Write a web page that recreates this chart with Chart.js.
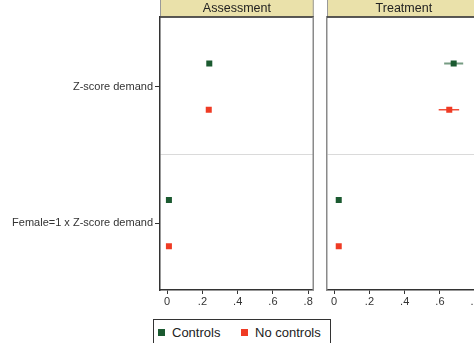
<!DOCTYPE html>
<html lang="en">
<head>
  <meta charset="UTF-8">
  <title>Z-score demand by stage</title>
  <style>
    html, body {
      margin: 0;
      padding: 0;
      width: 474px;
      height: 343px;
      overflow: hidden;
      background: #fff;
      font-family: "Liberation Sans", Arial, sans-serif;
    }
    canvas { position: absolute; top: 0; }
    #left { left: 0; }
    #right { left: 319px; }
    .legend {
      position: absolute;
      left: 153px;
      top: 319px;
      width: 176px;
      height: 30px;
      border: 1px solid #333;
      font-size: 13px;
      color: #222;
    }
    .legend span.item { position: absolute; top: 5px; }
    .legend i {
      display: inline-block;
      width: 7px;
      height: 7px;
      margin-right: 7px;
      vertical-align: 1px;
    }
  </style>
  <script src="https://cdn.jsdelivr.net/npm/chart.js"></script>
</head>
<body>
  <canvas id="left" width="318" height="312"></canvas>
  <canvas id="right" width="166" height="312"></canvas>
  <div class="legend">
    <span class="item" style="left:4px"><i style="background:#1b5a30"></i>Controls</span>
    <span class="item" style="left:87px"><i style="background:#ef3b24"></i>No controls</span>
  </div>

  <script>
    // rows of the plot (top to bottom)
    const groups = ['Z-score demand', 'Female=1 x Z-score demand'];
    const panels = ['Assessment', 'Treatment'];
    const xTicks = [0, 0.2, 0.4, 0.6, 0.8];
    const xTickLabels = ['0', '.2', '.4', '.6', '.8'];

    // Assessment panel
    const assessControls = [0.239, 0.010];
    const assessControlsLo = [0.229, 0.002];
    const assessControlsHi = [0.249, 0.018];
    const assessNoControls = [0.236, 0.010];
    const assessNoControlsLo = [0.226, 0.002];
    const assessNoControlsHi = [0.246, 0.018];

    // Treatment panel
    const treatControls = [0.678, 0.026];
    const treatControlsLo = [0.624, 0.018];
    const treatControlsHi = [0.732, 0.034];
    const treatNoControls = [0.653, 0.026];
    const treatNoControlsLo = [0.593, 0.018];
    const treatNoControlsHi = [0.709, 0.034];

    const green = '#1b5a30';
    const red = '#ef3b24';
    const font = { family: '"Liberation Sans", Arial, sans-serif', size: 11 };

    // vertical slot of each group, series shifted up / down inside it
    const rowY = (i, shift) => i * 2 + 1 + shift;

    function markers(values, shift, color, label) {
      return {
        label: label,
        data: values.map((v, i) => ({ x: v, y: rowY(i, shift) })),
        pointStyle: 'rect',
        pointRadius: 4.25,
        pointHoverRadius: 4.25,
        pointBorderWidth: 0,
        backgroundColor: color,
        borderColor: color,
        showLine: false
      };
    }

    function ciLines(lo, hi, shift, color, width) {
      return lo.map((l, i) => ({
        data: [{ x: l, y: rowY(i, shift) }, { x: hi[i], y: rowY(i, shift) }],
        showLine: true,
        borderColor: color,
        borderWidth: width,
        pointRadius: 0
      }));
    }

    function buildDatasets(c, cLo, cHi, n, nLo, nHi) {
      return [
        markers(c, -0.34, green, 'Controls'),
        markers(n, 0.34, red, 'No controls'),
        ...ciLines(cLo, cHi, -0.34, 'rgba(27,90,48,0.6)', 2),
        ...ciLines(nLo, nHi, 0.34, 'rgba(239,59,36,0.9)', 1.5)
      ];
    }

    // beige strip with panel title + light outline
    const stripPlugin = {
      id: 'strip',
      afterDraw(chart, args, opts) {
        const { ctx, chartArea: a } = chart;
        ctx.save();
        ctx.fillStyle = '#eae1aa';
        ctx.fillRect(a.left, 0, a.right - a.left, a.top);
        ctx.strokeStyle = '#999';
        ctx.lineWidth = 1;
        ctx.strokeRect(a.left + 0.5, -1, a.right - a.left - 1, a.top + 1);
        ctx.strokeStyle = '#333';
        ctx.lineWidth = 1.5;
        ctx.beginPath();
        ctx.moveTo(a.left, a.top);
        ctx.lineTo(a.right, a.top);
        ctx.stroke();
        // gray right edge of the plot region
        ctx.strokeStyle = '#8a8a8a';
        ctx.lineWidth = 1.5;
        ctx.beginPath();
        ctx.moveTo(a.right - 0.5, a.top);
        ctx.lineTo(a.right - 0.5, a.bottom);
        ctx.stroke();
        ctx.fillStyle = '#222';
        ctx.font = '12.5px "Liberation Sans", Arial, sans-serif';
        ctx.textAlign = 'center';
        ctx.textBaseline = 'middle';
        ctx.fillText(opts.text, (a.left + a.right) / 2, a.top / 2 + 0.5);
        ctx.restore();
      }
    };

    function makeChart(id, title, datasets, showYLabels) {
      return new Chart(document.getElementById(id), {
        type: 'scatter',
        data: { datasets: datasets },
        plugins: [stripPlugin],
        options: {
          responsive: false,
          animation: false,
          layout: { padding: { top: 17, right: 1, left: 0, bottom: 0 } },
          plugins: {
            legend: { display: false },
            tooltip: { enabled: false },
            strip: { text: title }
          },
          scales: {
            x: {
              type: 'linear',
              min: -0.0406,
              max: 0.8316,
              afterBuildTicks: (axis) => { axis.ticks = xTicks.map(v => ({ value: v })); },
              afterFit: (axis) => { axis.height = 22; },
              border: { color: '#333', width: 1.5 },
              grid: { drawOnChartArea: false, tickLength: 4, tickColor: '#333' },
              ticks: {
                padding: 1,
                color: '#333',
                font: font,
                maxRotation: 0,
                callback: (v, i) => xTickLabels[i]
              }
            },
            y: {
              type: 'linear',
              reverse: true,
              min: -0.02,
              max: 3.98,
              afterBuildTicks: (axis) => { axis.ticks = [1, 2, 3].map(v => ({ value: v })); },
              afterFit: (axis) => { axis.width = showYLabels ? 160 : 8; },
              border: { color: showYLabels ? '#333' : '#8a8a8a', width: 1.5 },
              grid: {
                color: (c) => c.tick && c.tick.value === 2 ? '#dadada' : 'rgba(0,0,0,0)',
                tickColor: (c) => c.tick && c.tick.value !== 2 && showYLabels ? '#333' : 'rgba(0,0,0,0)',
                tickLength: 5,
                drawTicks: showYLabels
              },
              ticks: {
                display: showYLabels,
                padding: 2,
                color: '#333',
                font: font,
                callback: (v) => v === 1 ? groups[0] : (v === 3 ? groups[1] : '')
              }
            }
          }
        }
      });
    }

    makeChart('left', panels[0],
      buildDatasets(assessControls, assessControlsLo, assessControlsHi,
                    assessNoControls, assessNoControlsLo, assessNoControlsHi), true);
    makeChart('right', panels[1],
      buildDatasets(treatControls, treatControlsLo, treatControlsHi,
                    treatNoControls, treatNoControlsLo, treatNoControlsHi), false);
  </script>
</body>
</html>
